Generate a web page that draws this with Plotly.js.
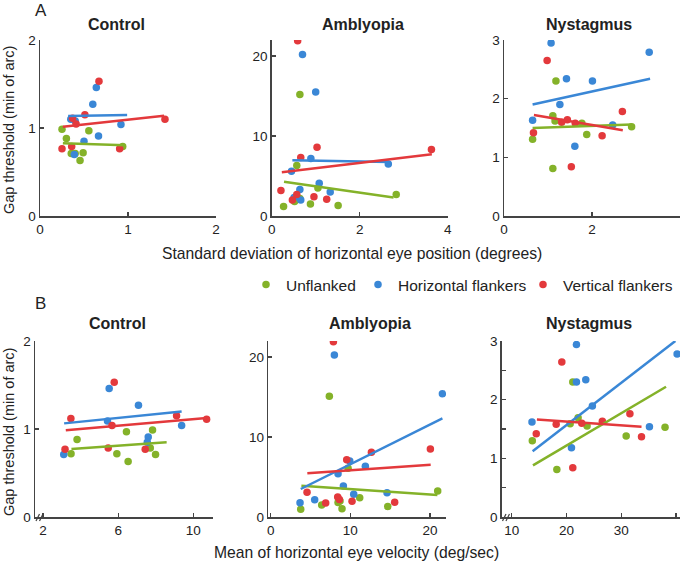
<!DOCTYPE html>
<html>
<head>
<meta charset="utf-8">
<script src="https://cdn.plot.ly/plotly-3.0.1.min.js"></script>
<style>
  html, body { margin: 0; padding: 0; background: #fff; }
  #chart { width: 683px; height: 565px; }
</style>
</head>
<body>
<div id="chart"></div>
<script>
// ---- data ----
// A: SD of horizontal eye position (deg) vs gap threshold
const aCtrlUnfX = [0.25, 0.30, 0.555, 0.355, 0.40, 0.49, 0.455, 0.94];
const aCtrlUnfY = [0.985, 0.88, 0.97, 0.71, 0.71, 0.72, 0.63, 0.79];
const aCtrlHorX = [0.64, 0.60, 0.35, 0.40, 0.92, 0.665, 0.50, 0.39];
const aCtrlHorY = [1.46, 1.27, 1.10, 1.08, 1.04, 0.91, 0.85, 0.70];
const aCtrlVerX = [0.67, 0.37, 0.51, 0.41, 1.42, 0.25, 0.36, 0.905];
const aCtrlVerY = [1.53, 1.11, 1.15, 1.045, 1.10, 0.765, 0.79, 0.765];
const aCtrlFitX = { unf: [0.26, 0.97], hor: [0.32, 0.99], ver: [0.26, 1.41] };
const aCtrlFitY = { unf: [0.826, 0.803], hor: [1.136, 1.148], ver: [1.015, 1.14] };

const aAmbUnfX = [0.64, 0.57, 1.05, 0.27, 0.51, 0.52, 0.64, 0.88, 1.51, 2.83];
const aAmbUnfY = [15.2, 6.3, 3.5, 1.2, 2.0, 1.8, 2.2, 1.5, 1.3, 2.7];
const aAmbHorX = [0.70, 1.0, 0.89, 0.45, 1.08, 1.33, 0.64, 0.51, 0.66, 2.65];
const aAmbHorY = [20.2, 15.5, 7.2, 5.6, 4.1, 3.0, 3.3, 2.3, 2.0, 6.5];
const aAmbVerX = [0.59, 1.03, 0.66, 0.21, 0.57, 0.96, 1.25, 0.47, 3.63];
const aAmbVerY = [21.9, 8.6, 7.3, 3.2, 2.7, 2.4, 2.1, 2.0, 8.3];
const aAmbFitX = { unf: [0.28, 2.77], hor: [0.47, 2.67], ver: [0.23, 3.64] };
const aAmbFitY = { unf: [4.27, 2.32], hor: [6.97, 6.76], ver: [5.48, 7.72] };

const aNysUnfX = [1.18, 1.11, 1.16, 1.77, 0.65, 1.88, 2.90, 1.11];
const aNysUnfY = [2.30, 1.71, 1.62, 1.58, 1.31, 1.39, 1.52, 0.81];
const aNysHorX = [1.07, 1.42, 2.01, 3.30, 1.27, 0.65, 2.47, 1.61];
const aNysHorY = [2.95, 2.34, 2.30, 2.79, 1.90, 1.63, 1.55, 1.19];
const aNysVerX = [0.98, 0.67, 1.31, 1.44, 1.62, 2.23, 2.69, 1.53];
const aNysVerY = [2.65, 1.42, 1.60, 1.64, 1.58, 1.37, 1.78, 0.84];
const aNysFitX = { unf: [0.65, 2.90], hor: [0.65, 3.32], ver: [0.68, 2.70] };
const aNysFitY = { unf: [1.50, 1.56], hor: [1.90, 2.34], ver: [1.72, 1.46] };

// B: mean horizontal eye velocity (deg/sec) vs gap threshold
const bCtrlUnfX = [3.81, 3.49, 6.44, 5.93, 6.53, 7.83, 7.71, 7.99];
const bCtrlUnfY = [0.88, 0.72, 0.97, 0.72, 0.63, 0.99, 0.785, 0.71];
const bCtrlHorX = [5.52, 7.08, 5.43, 9.38, 7.60, 7.55, 3.10];
const bCtrlHorY = [1.46, 1.27, 1.09, 1.04, 0.91, 0.85, 0.71];
const bCtrlVerX = [5.79, 3.48, 5.67, 9.11, 10.71, 3.17, 5.47, 7.44];
const bCtrlVerY = [1.53, 1.12, 1.04, 1.15, 1.11, 0.77, 0.785, 0.77];
const bCtrlFitX = { unf: [3.51, 8.58], hor: [3.12, 9.38], ver: [3.21, 10.71] };
const bCtrlFitY = { unf: [0.774, 0.849], hor: [1.064, 1.20], ver: [0.985, 1.125] };

const bAmbUnfX = [7.36, 9.71, 20.96, 11.17, 8.45, 8.7, 6.40, 3.77, 8.95, 14.69];
const bAmbUnfY = [15.1, 6.1, 3.25, 2.4, 1.8, 2.0, 1.5, 0.96, 1.04, 1.3];
const bAmbHorX = [7.99, 21.55, 9.92, 11.88, 8.45, 9.12, 10.42, 14.6, 5.52, 3.68];
const bAmbHorY = [20.25, 15.4, 7.0, 6.33, 5.42, 3.87, 2.83, 3.04, 2.17, 1.79];
const bAmbVerX = [7.87, 9.54, 12.64, 20.04, 4.56, 8.41, 8.62, 6.90, 10.21, 15.56];
const bAmbVerY = [21.9, 7.17, 8.08, 8.5, 3.08, 2.5, 2.2, 1.75, 1.96, 1.83];
const bAmbFitX = { unf: [3.85, 20.92], hor: [3.77, 21.55], ver: [4.6, 20.08] };
const bAmbFitY = { unf: [3.92, 2.75], hor: [3.5, 12.33], ver: [5.46, 6.54] };

const bNysUnfX = [21.15, 22.12, 20.67, 23.76, 13.76, 30.9, 38.0, 18.24];
const bNysUnfY = [2.30, 1.69, 1.59, 1.55, 1.30, 1.38, 1.53, 0.81];
const bNysHorX = [21.82, 21.82, 23.52, 40.2, 24.73, 13.70, 35.15, 20.91];
const bNysHorY = [2.94, 2.30, 2.34, 2.78, 1.89, 1.62, 1.54, 1.18];
const bNysVerX = [19.15, 14.48, 18.12, 22.79, 26.55, 31.58, 33.7, 21.15];
const bNysVerY = [2.64, 1.42, 1.58, 1.60, 1.63, 1.76, 1.37, 0.84];
const bNysFitX = { unf: [13.88, 38.18], hor: [13.82, 39.88], ver: [14.6, 33.7] };
const bNysFitY = { unf: [0.88, 2.22], hor: [1.12, 3.0], ver: [1.66, 1.54] };

const seriesNames = ['Unflanked', 'Horizontal flankers', 'Vertical flankers'];
const panelTitles = ['Control', 'Amblyopia', 'Nystagmus'];
const colors = { unf: '#84b229', hor: '#3a87d6', ver: '#e3393c' };
const legendIds = { unf: 'legend', hor: 'legend2', ver: 'legend3' };

// ---- layout helpers (pixel -> paper) ----
const W = 683, H = 565;
const px = x => x / W;
const py = y => 1 - y / H;
const FONT = 'Liberation Sans, Arial, sans-serif';

const traces = [];
function addPanel(n, ux, uy, hx, hy, vx, vy, fitX, fitY) {
    const xa = n === 1 ? 'x' : 'x' + n;
    const ya = n === 1 ? 'y' : 'y' + n;
    const sets = [['unf', ux, uy, 0], ['hor', hx, hy, 1], ['ver', vx, vy, 2]];
    sets.forEach(([k, x, y, i]) => {
        traces.push({
            x: x, y: y, xaxis: xa, yaxis: ya, type: 'scatter', mode: 'markers',
            name: seriesNames[i], legend: legendIds[k], showlegend: n === 1,
            marker: { color: colors[k], size: 7.5 },
            hoverinfo: 'x+y'
        });
    });
    sets.forEach(([k]) => {
        traces.push({
            x: fitX[k], y: fitY[k], xaxis: xa, yaxis: ya, type: 'scatter', mode: 'lines',
            showlegend: false,
            line: { color: colors[k], width: 2.5 }, hoverinfo: 'skip'
        });
    });
}

addPanel(1, aCtrlUnfX, aCtrlUnfY, aCtrlHorX, aCtrlHorY, aCtrlVerX, aCtrlVerY, aCtrlFitX, aCtrlFitY);
addPanel(2, aAmbUnfX, aAmbUnfY, aAmbHorX, aAmbHorY, aAmbVerX, aAmbVerY, aAmbFitX, aAmbFitY);
addPanel(3, aNysUnfX, aNysUnfY, aNysHorX, aNysHorY, aNysVerX, aNysVerY, aNysFitX, aNysFitY);
addPanel(4, bCtrlUnfX, bCtrlUnfY, bCtrlHorX, bCtrlHorY, bCtrlVerX, bCtrlVerY, bCtrlFitX, bCtrlFitY);
addPanel(5, bAmbUnfX, bAmbUnfY, bAmbHorX, bAmbHorY, bAmbVerX, bAmbVerY, bAmbFitX, bAmbFitY);
addPanel(6, bNysUnfX, bNysUnfY, bNysHorX, bNysHorY, bNysVerX, bNysVerY, bNysFitX, bNysFitY);

function axis(domain, range, tickvals, anchor, extra) {
    return Object.assign({
        domain: domain, range: range, tickvals: tickvals, anchor: anchor,
        showline: true, linecolor: '#444', linewidth: 1.5,
        ticks: 'inside', ticklen: 4, tickcolor: '#444', tickwidth: 1.2,
        showgrid: false, zeroline: false, fixedrange: true,
        tickfont: { family: FONT, size: 13.5, color: '#222' }
    }, extra || {});
}

function legendAt(x) {
    return {
        orientation: 'h', x: px(x), y: py(285), xanchor: 'left', yanchor: 'middle',
        font: { size: 15.5, color: '#222', family: FONT }, itemwidth: 30,
        bgcolor: 'rgba(0,0,0,0)'
    };
}

const rowA = [py(216), py(40)];
const rowB = [py(517), py(341)];

const layout = {
    width: W, height: H,
    margin: { l: 0, r: 0, t: 0, b: 0 },
    paper_bgcolor: '#fff', plot_bgcolor: '#fff',
    font: { family: FONT, color: '#222' },
    showlegend: true,
    legend: legendAt(246),
    legend2: legendAt(358),
    legend3: legendAt(523),
    xaxis: axis([px(40), px(216)], [0, 2], [0, 1, 2], 'y'),
    yaxis: axis(rowA, [0, 2], [0, 1, 2], 'x'),
    xaxis2: axis([px(271.7), px(447.7)], [0, 4], [0, 2, 4], 'y2'),
    yaxis2: axis(rowA, [0, 22], [0, 10, 20], 'x2'),
    xaxis3: axis([px(504), px(680)], [0, 4], [0, 2, 4], 'y3'),
    yaxis3: axis(rowA, [0, 3], [0, 1, 2, 3], 'x3'),
    xaxis4: axis([px(35), px(213)], [1.57, 11.05], [2, 6, 10], 'y4'),
    yaxis4: axis(rowB, [0, 2], [0, 1, 2], 'x4'),
    xaxis5: axis([px(268.3), px(446)], [-0.3, 22], [0, 10, 20], 'y5'),
    yaxis5: axis(rowB, [0, 22], [0, 10, 20], 'x5'),
    xaxis6: axis([px(501.7), px(680)], [8.17, 40.73], [10, 20, 30, 40], 'y6'),
    yaxis6: axis(rowB, [0, 3], [0, 1, 2, 3], 'x6',
        { minor: { dtick: 0.5, ticks: 'inside', ticklen: 4, tickcolor: '#444', showgrid: false } }),
    annotations: [],
    shapes: []
};

const ann = layout.annotations;
function text(t, x, y, size, opts) {
    ann.push(Object.assign({
        text: t, x: px(x), y: py(y), xref: 'paper', yref: 'paper',
        showarrow: false, xanchor: 'center', yanchor: 'middle',
        font: { size: size, color: '#222', family: FONT }
    }, opts || {}));
}

// panel letters
text('A', 41, 11, 17);
text('B', 40, 303, 17);
// subplot titles
text('<b>' + panelTitles[0] + '</b>', 116, 25, 16);
text('<b>' + panelTitles[1] + '</b>', 363, 25, 16);
text('<b>' + panelTitles[2] + '</b>', 589, 25, 16);
text('<b>' + panelTitles[0] + '</b>', 117, 323, 16);
text('<b>' + panelTitles[1] + '</b>', 370, 323, 16);
text('<b>' + panelTitles[2] + '</b>', 589, 323, 16);
// axis titles
text('Standard deviation of horizontal eye position (degrees)', 352, 253, 15.7);
text('Mean of horizontal eye velocity (deg/sec)', 356, 552, 15.7);
text('Gap threshold (min of arc)', 9, 130, 14.5, { textangle: -90 });
text('Gap threshold (min of arc)', 9, 432, 14.5, { textangle: -90 });

// axis break marks (//) at the left end of the broken x axes
[[38, 517.5], [504.5, 517.5]].forEach(([bx, by]) => {
    [0, 3.5].forEach(d => {
        layout.shapes.push({
            type: 'line', xref: 'paper', yref: 'paper',
            x0: px(bx + d - 2), y0: py(by + 3.5), x1: px(bx + d + 1.5), y1: py(by - 3.5),
            line: { color: '#444', width: 1.2 }
        });
    });
});

Plotly.newPlot('chart', traces, layout, { displayModeBar: false, staticPlot: true });
</script>
</body>
</html>
